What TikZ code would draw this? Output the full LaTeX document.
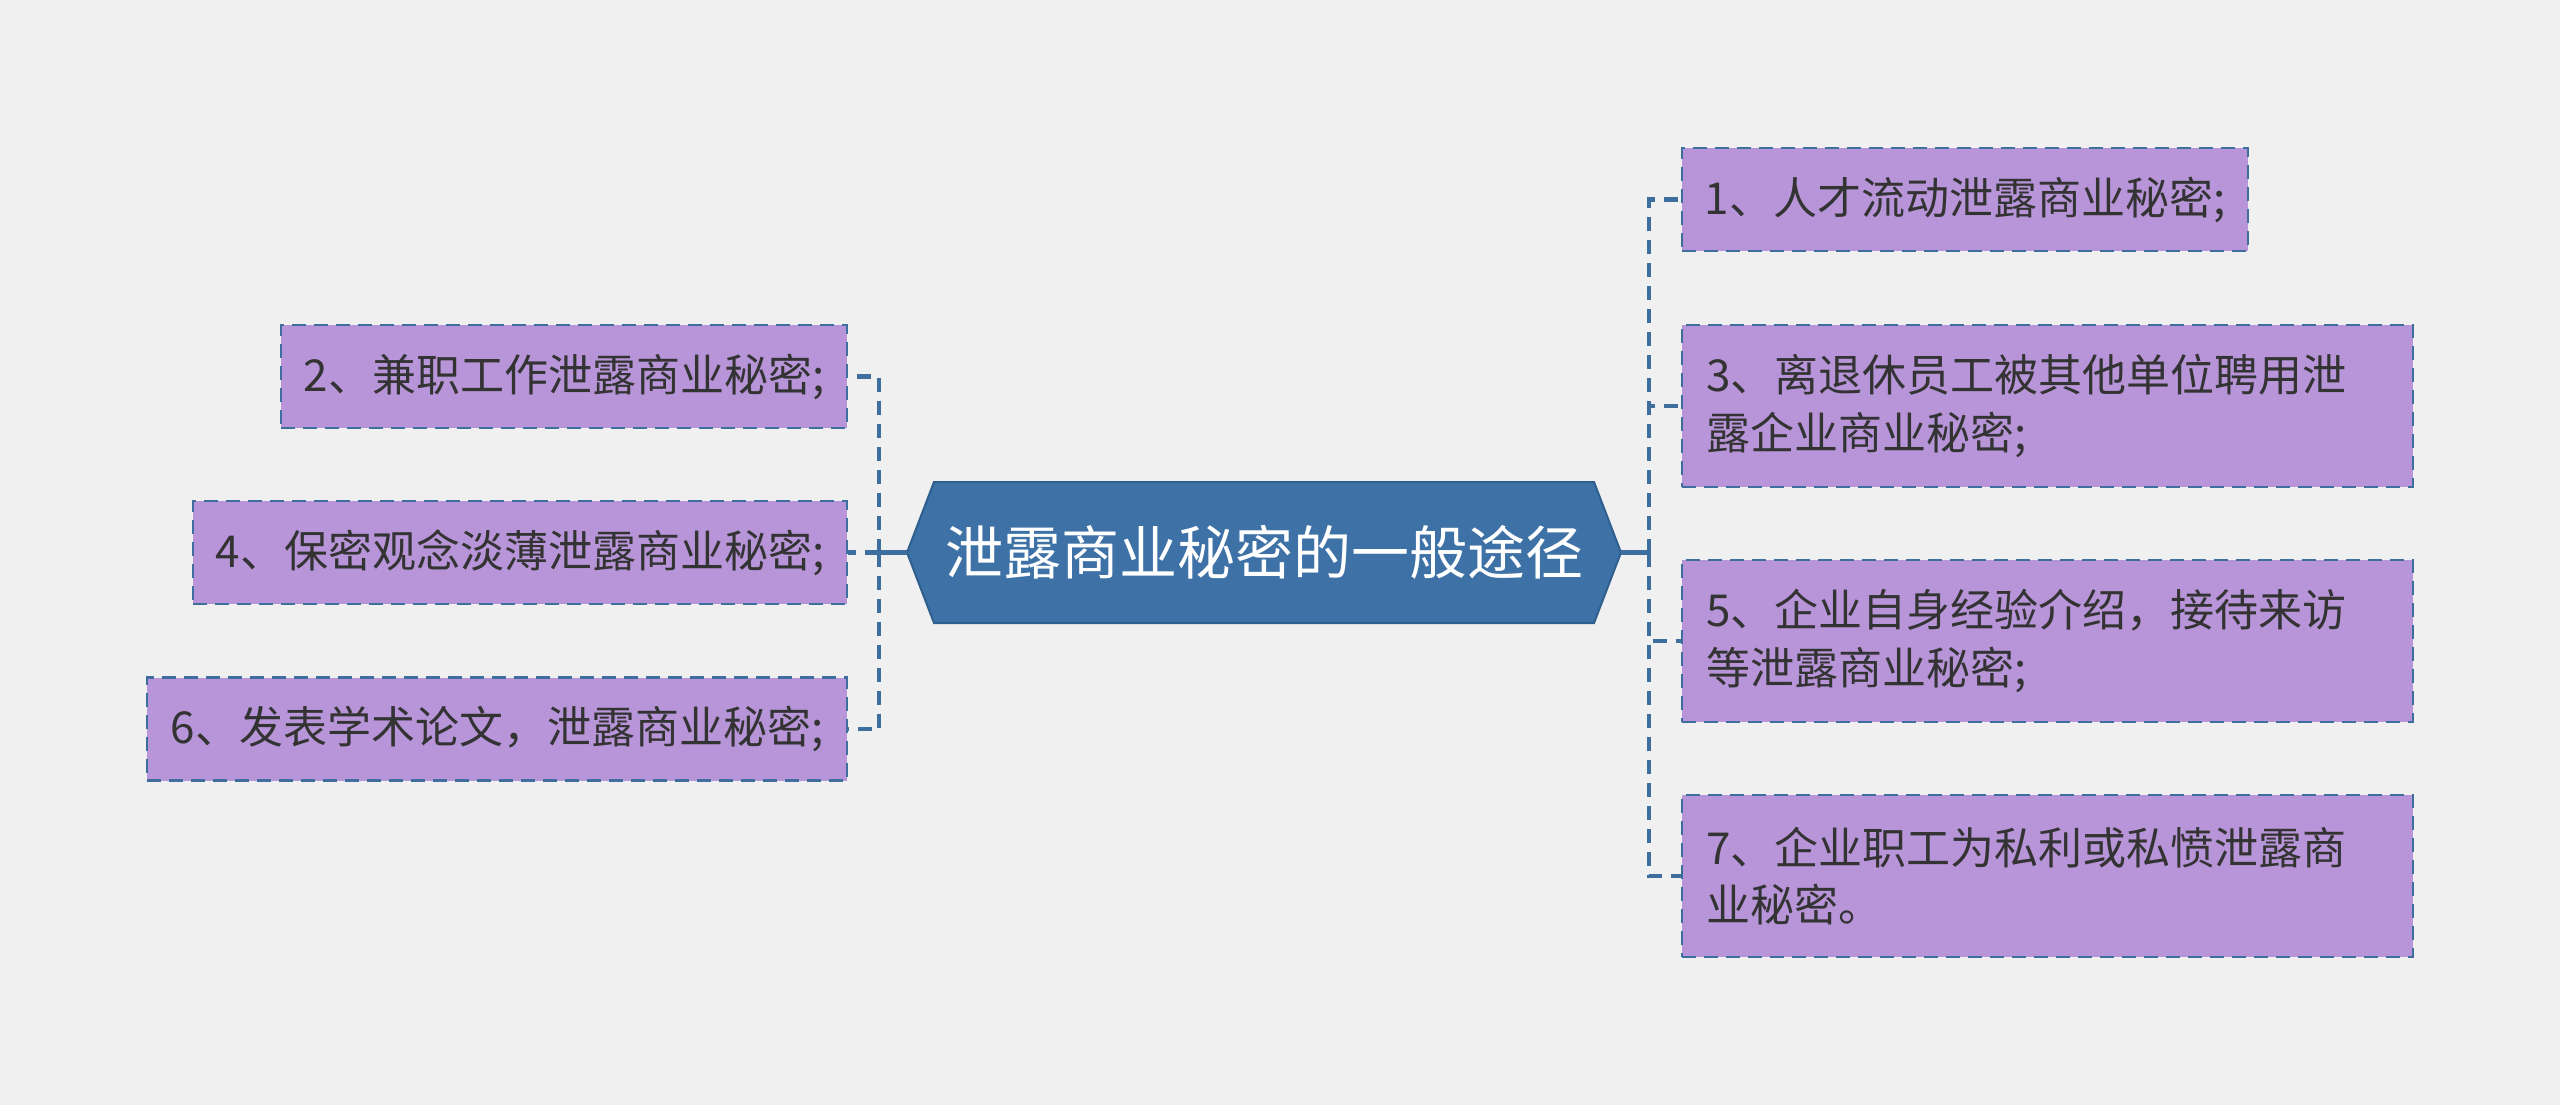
\documentclass[tikz,border=0pt]{standalone}
\usepackage{fontspec}
\setmainfont{Noto Sans CJK SC}
\definecolor{bgc}{HTML}{F0F0F0}
\definecolor{linec}{HTML}{3D6E9E}
\definecolor{centerfill}{HTML}{3E72A6}
\definecolor{centerdraw}{HTML}{2F5F8F}
\definecolor{leaffill}{HTML}{B795D8}
\definecolor{textc}{HTML}{333333}
\tikzset{
  leaf/.style={draw=linec, line width=1.4pt, dash pattern=on 7pt off 4pt,
    fill=leaffill, text=textc, font=\fontsize{22}{28.6}\selectfont,
    inner xsep=0pt, inner ysep=0pt, minimum height=51.5pt},
  leaftwo/.style={leaf, text width=341.5pt, align=left, inner xsep=12pt, minimum height=81pt},
  conn/.style={draw=linec, line width=2.2pt, dash pattern=on 7pt off 4.5pt},
  connsolid/.style={draw=linec, line width=2.2pt},
}
\begin{document}
\begin{tikzpicture}[x=0.5pt,y=-0.5pt]
\fill[bgc] (0,0) rectangle (2560,1105);
\path[use as bounding box] (0,0) rectangle (2560,1105);
% central node
\filldraw[fill=centerfill, draw=centerdraw, line width=1pt]
  (907,552.5) -- (934,482) -- (1594,482) -- (1621,552.5) -- (1594,623) -- (934,623) -- cycle;
\node[minimum width=357pt, minimum height=70.5pt, inner sep=0pt, text=white,
  font=\fontsize{29}{35}\selectfont] (c) at (1264,552.5) {泄露商业秘密的一般途径};
% left nodes
\node[leaf, minimum width=283pt] (n2) at (564,376.5) {2、兼职工作泄露商业秘密;};
\node[leaf, minimum width=327pt] (n4) at (520,552.5) {4、保密观念淡薄泄露商业秘密;};
\node[leaf, minimum width=350pt] (n6) at (497,729) {6、发表学术论文，泄露商业秘密;};
% right nodes
\node[leaf, minimum width=283pt] (n1) at (1965,199.5) {1、人才流动泄露商业秘密;};
\node[leaftwo] (n3) at (2047.5,406) {3、离退休员工被其他单位聘用泄\\露企业商业秘密;};
\node[leaftwo] (n5) at (2047.5,641) {5、企业自身经验介绍，接待来访\\等泄露商业秘密;};
\node[leaftwo] (n7) at (2047.5,876) {7、企业职工为私利或私愤泄露商\\业秘密。};
% junctions
\coordinate (jl) at (879,552.5);
\coordinate (jr) at (1649,552.5);
\draw[connsolid] (c.west) -- (jl);
\draw[connsolid] (c.east) -- (jr);
\draw[conn] (jl) |- (n2.east);
\draw[conn] (jl) |- (n4.east);
\draw[conn] (jl) |- (n6.east);
\draw[conn] (jr) |- (n1.west);
\draw[conn] (jr) |- (n3.west);
\draw[conn] (jr) |- (n5.west);
\draw[conn] (jr) |- (n7.west);
\end{tikzpicture}
\end{document}
